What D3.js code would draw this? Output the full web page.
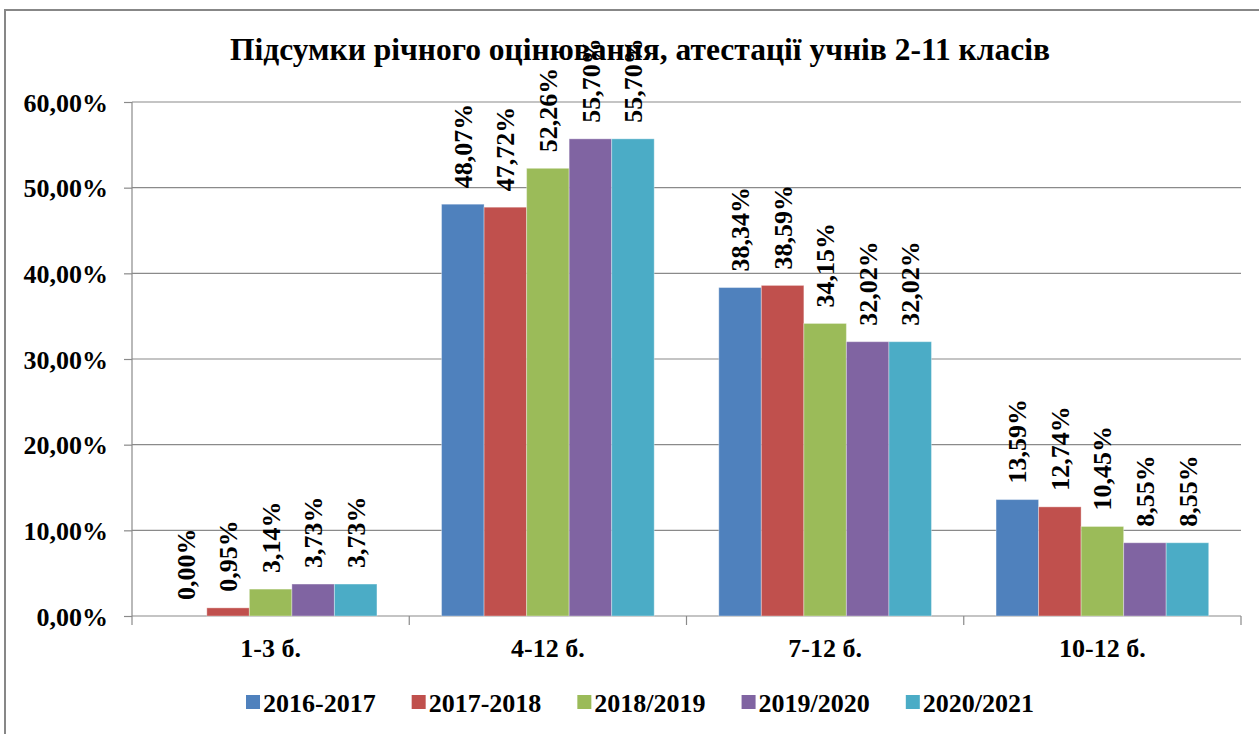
<!DOCTYPE html>
<html>
<head>
<meta charset="utf-8">
<script src="https://cdn.jsdelivr.net/npm/d3@7"></script>
<style>
  body { margin: 0; background: #fff; }
  svg { display: block; }
  text { font-family: "Liberation Serif", "Times New Roman", serif; font-weight: bold; fill: #000; }
</style>
</head>
<body>
<svg id="chart"></svg>
<script>
const categories = ["1-3 б.", "4-12 б.", "7-12 б.", "10-12 б."];
const seriesNames = ["2016-2017", "2017-2018", "2018/2019", "2019/2020", "2020/2021"];
const colors = ["#4F81BD", "#C0504D", "#9BBB59", "#8064A2", "#4BACC6"];
// one array per school year, values in the order of categories
const s2016 = [0.0000, 0.4807, 0.3834, 0.1359];
const s2017 = [0.0095, 0.4772, 0.3859, 0.1274];
const s2018 = [0.0314, 0.5226, 0.3415, 0.1045];
const s2019 = [0.0373, 0.5570, 0.3202, 0.0855];
const s2020 = [0.0373, 0.5570, 0.3202, 0.0855];
const values = [s2016, s2017, s2018, s2019, s2020];
const yTicks = [0, 0.1, 0.2, 0.3, 0.4, 0.5, 0.6];
const title = "Підсумки річного оцінювання, атестації учнів 2-11 класів";

const width = 1259, height = 734;
const plot = {left: 132, right: 1241, top: 102, bottom: 616};

const locale = d3.formatLocale({decimal: ",", thousands: " ", grouping: [3], currency: ["", ""]});
const pct = locale.format(".2%");

const svg = d3.select("#chart").attr("width", width).attr("height", height);

// chart frame, only left and top edges are visible
svg.append("rect")
  .attr("x", 5).attr("y", 10)
  .attr("width", 1400).attr("height", 900)
  .attr("fill", "none")
  .attr("stroke", "#878787")
  .attr("stroke-width", 2);

const x0 = d3.scaleBand().domain(categories).range([plot.left, plot.right]);
const gap = x0.bandwidth() * 0.233;
const x1 = d3.scaleBand().domain(seriesNames).range([gap / 2, x0.bandwidth() - gap / 2]);
const y = d3.scaleLinear().domain([0, 0.6]).range([plot.bottom, plot.top]);

// gridlines
svg.append("g")
  .selectAll("line")
  .data(yTicks)
  .join("line")
  .attr("x1", plot.left).attr("x2", plot.right)
  .attr("y1", d => y(d)).attr("y2", d => y(d))
  .attr("stroke", "#8a8a8a")
  .attr("stroke-width", 1.2);

// y axis
svg.append("g")
  .attr("transform", `translate(${plot.left},0)`)
  .call(d3.axisLeft(y).tickValues(yTicks).tickSize(8).tickPadding(16).tickFormat(pct))
  .call(g => g.select(".domain").attr("stroke", "#8a8a8a").attr("stroke-width", 1.2)
      .attr("d", `M0,${plot.top}V${plot.bottom}`))
  .call(g => g.selectAll(".tick line").attr("stroke", "#8a8a8a").attr("stroke-width", 1.2))
  .call(g => g.selectAll(".tick text")
      .attr("font-size", 26).attr("font-family", null).attr("dy", "0.35em"));

// category ticks on x axis
const xTickPos = categories.map(c => x0(c)).concat([x0.range()[1]]);
svg.append("g")
  .selectAll("line")
  .data(xTickPos)
  .join("line")
  .attr("x1", d => d).attr("x2", d => d)
  .attr("y1", plot.bottom).attr("y2", plot.bottom + 9)
  .attr("stroke", "#8a8a8a")
  .attr("stroke-width", 1.2);

svg.append("g")
  .selectAll("text")
  .data(categories)
  .join("text")
  .attr("x", d => x0(d) + x0.bandwidth() / 2)
  .attr("y", 657)
  .attr("text-anchor", "middle")
  .attr("font-size", 26)
  .text(d => d);

// bars
const groups = svg.append("g")
  .selectAll("g")
  .data(seriesNames)
  .join("g")
  .attr("fill", (d, i) => colors[i]);

groups.selectAll("rect")
  .data((s, si) => categories.map((c, ci) => ({c: c, s: s, v: values[si][ci]})))
  .join("rect")
  .attr("x", d => x0(d.c) + x1(d.s))
  .attr("width", x1.bandwidth())
  .attr("y", d => y(d.v))
  .attr("height", d => y(0) - y(d.v))
  .attr("stroke", "rgba(255,255,255,0.35)")
  .attr("stroke-width", 1);

// value labels, rotated
groups.selectAll("text")
  .data((s, si) => categories.map((c, ci) => ({c: c, s: s, v: values[si][ci]})))
  .join("text")
  .attr("transform", d => `translate(${x0(d.c) + x1(d.s) + x1.bandwidth() / 2},${y(d.v) - 16}) rotate(-90)`)
  .attr("dy", "0.35em")
  .attr("font-size", 26)
  .attr("fill", "#000")
  .text(d => pct(d.v));

// title
svg.append("text")
  .attr("x", 640)
  .attr("y", 60)
  .attr("text-anchor", "middle")
  .attr("font-size", 31.5)
  .text(title);

// legend
const legend = svg.append("g");
let lx = 246;
seriesNames.forEach((name, i) => {
  legend.append("rect")
    .attr("x", lx).attr("y", 695)
    .attr("width", 14).attr("height", 14)
    .attr("fill", colors[i]);
  const t = legend.append("text")
    .attr("x", lx + 17).attr("y", 712)
    .attr("font-size", 26)
    .text(name);
  lx += 17 + t.node().getComputedTextLength() + 36;
});
</script>
</body>
</html>
